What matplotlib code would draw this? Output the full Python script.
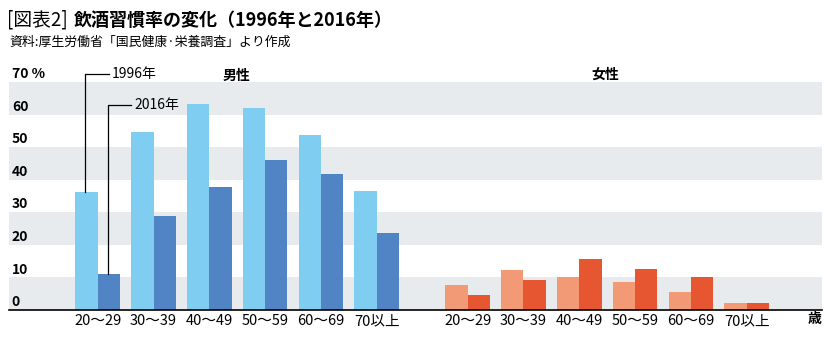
import matplotlib
matplotlib.use("Agg")
import matplotlib.pyplot as plt
import numpy as np

plt.rcParams['font.family'] = ['Noto Sans CJK JP', 'DejaVu Sans']

categories = ["20〜29", "30〜39", "40〜49", "50〜59", "60〜69", "70以上"]
men_1996 = [36.3, 54.7, 63.2, 62.1, 53.7, 36.6]
men_2016 = [11.0, 28.9, 37.8, 46.0, 41.7, 23.5]
women_1996 = [7.7, 12.3, 10.0, 8.7, 5.6, 2.1]
women_2016 = [4.6, 9.2, 15.6, 12.6, 10.1, 2.1]
y_ticks = [0, 10, 20, 30, 40, 50, 60, 70]
y_labels = ["0", "10", "20", "30", "40", "50", "60", "70 %"]

C_M96 = "#7fcdf0"
C_M16 = "#5184c4"
C_W96 = "#f29a76"
C_W16 = "#e65631"
C_BAND = "#e8ebee"

W, H = 839, 345
fig = plt.figure(figsize=(W / 100, H / 100), dpi=100)

left_px, right_px, base_px, top_px = 9, 822, 310, 82
ax = fig.add_axes([left_px / W, (H - base_px) / H, (right_px - left_px) / W, (base_px - top_px) / H])

xm = np.arange(6)
xw = np.arange(6) + 6.63
bw = 0.40
ax.set_xlim(-1.59, 12.98)
ax.set_ylim(0, 70)

for lo in range(0, 70, 20):
    ax.axhspan(lo, lo + 10, color=C_BAND, lw=0, zorder=0)

ax.bar(xm - bw / 2, men_1996, bw, color=C_M96, zorder=2)
ax.bar(xm + bw / 2, men_2016, bw, color=C_M16, zorder=2)
ax.bar(xw - bw / 2, women_1996, bw, color=C_W96, zorder=2)
ax.bar(xw + bw / 2, women_2016, bw, color=C_W16, zorder=2)

for s in ["top", "right", "left"]:
    ax.spines[s].set_visible(False)
ax.spines["bottom"].set_color("black")
ax.spines["bottom"].set_linewidth(1.2)
ax.spines["bottom"].set_zorder(3)

ax.set_yticks([])
ax.set_xticks(list(xm) + list(xw))
ax.set_xticklabels(categories + categories, fontsize=10.5)
ax.tick_params(axis="x", length=0, pad=3)

# y labels
for v, lab in zip(y_ticks, y_labels):
    ax.text(-1.54, v + 2.4, lab, fontsize=10, fontweight="bold", ha="left", va="center",
            clip_on=False, zorder=4)

# unit
ax.text(12.85, -2.9, "歳", fontsize=10, fontweight="bold", ha="center", va="center",
        clip_on=False)

# panel labels
ax.text(2.48, 71.8, "男性", fontsize=10, fontweight="bold", ha="center", va="center", clip_on=False)
ax.text(9.1, 72.2, "女性", fontsize=10, fontweight="bold", ha="center", va="center", clip_on=False)

# annotation leaders
x1 = xm[0] - bw / 2 - 0.02
y1 = 72.5
ax.plot([x1, x1, x1 + 0.42], [men_1996[0], y1, y1], color="black", lw=0.9, clip_on=False, zorder=5)
ax.text(x1 + 0.48, y1, "1996年", fontsize=10, ha="left", va="center", clip_on=False)
x2 = xm[0] + bw / 2 - 0.02
y2 = 63.0
ax.plot([x2, x2, x2 + 0.42], [men_2016[0], y2, y2], color="black", lw=0.9, clip_on=False, zorder=5)
ax.text(x2 + 0.48, y2, "2016年", fontsize=10, ha="left", va="center", clip_on=False)

# title
fig.text(7 / W, 1 - 20 / H, "[図表2]", fontsize=13.5, ha="left", va="center")
fig.text(74 / W, 1 - 20 / H, "飲酒習慣率の変化（1996年と2016年）", fontsize=13, fontweight="bold",
         ha="left", va="center")
fig.text(9 / W, 1 - 42 / H, "資料:厚生労働省「国民健康·栄養調査」より作成", fontsize=9.3, ha="left", va="center")

fig.savefig("out.png", dpi=100)
